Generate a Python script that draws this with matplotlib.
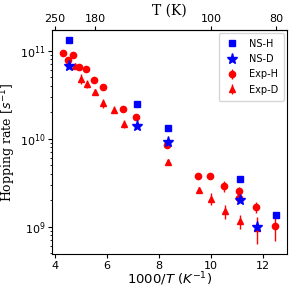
import numpy as np
import matplotlib
matplotlib.use("Agg")
import matplotlib.pyplot as plt

# neutron scattering (simulation) rates, x = 1000/T
ns_h_x = [4.545, 7.143, 8.333, 11.111, 12.5]
ns_h_y = [1.31e11, 2.48e10, 1.33e10, 3.49e9, 1.34e9]
ns_d_x = [4.545, 7.143, 8.333, 11.111, 11.765]
ns_d_y = [6.76e10, 1.41e10, 9.2e9, 2.03e9, 9.9e8]

# experiment, H
exp_h_x = [4.30, 4.49, 4.68, 4.93, 5.19, 5.51, 5.83, 6.62, 7.12, 8.30,
           9.49, 9.97, 10.50, 11.06, 11.06, 11.73, 12.47]
exp_h_y = [9.4e10, 7.9e10, 8.9e10, 6.6e10, 6.2e10, 4.7e10, 3.9e10, 2.2e10, 1.75e10, 8.4e9,
           3.8e9, 3.8e9, 2.9e9, 2.55e9, 2.14e9, 1.68e9, 1.03e9]
exp_h_err = [3e9, 3e9, 3e9, 2e9, 2e9, 1.5e9, 1.2e9, 7e8, 6e8, 4e8,
             1.5e8, 1.5e8, 4e8, 2.5e8, 2e8, 2.5e8, 3.4e8]

# experiment, D
exp_d_x = [4.77, 5.00, 5.25, 5.54, 5.85, 6.25, 6.64, 8.33, 9.52, 10.00, 10.52, 11.10, 11.75]
exp_d_y = [6.76e10, 4.8e10, 4.2e10, 3.4e10, 2.55e10, 2.14e10, 1.48e10, 5.4e9, 2.63e9,
           2.07e9, 1.49e9, 1.15e9, 9.7e8]
exp_d_err = [3e9, 6e9, 4e9, 3e9, 3e9, 2e9, 1.5e9, 4e8, 2e8, 3.3e8, 2.7e8, 2e8, 3.3e8]

top_ticks = [250, 180, 100, 80]

fig = plt.figure(figsize=(2.89, 2.88), dpi=100)
ax = fig.add_axes([0.181, 0.117, 0.811, 0.779])

ax.plot(ns_h_x, ns_h_y, 's', color='blue', ms=5, label='NS-H', zorder=3)
ax.plot(ns_d_x, ns_d_y, '*', color='blue', ms=8, label='NS-D', zorder=3)
ax.errorbar(exp_h_x, exp_h_y, yerr=exp_h_err, fmt='o', color='red', ms=4.5,
            elinewidth=1, capsize=0, label='Exp-H')
ax.errorbar(exp_d_x, exp_d_y, yerr=exp_d_err, fmt='^', color='red', ms=4.5,
            elinewidth=1, capsize=0, label='Exp-D')

ax.set_yscale('log')
ax.set_xlim(3.9, 12.9)
ax.set_ylim(4.85e8, 1.72e11)
ax.set_xticks([4, 6, 8, 10, 12])
ax.tick_params(labelsize=8, length=3, pad=2)
ax.tick_params(which='minor', length=1.8)

ax.set_xlabel(r'1000/$T$ ($K^{-1}$)', fontsize=9.5)
ax.xaxis.set_label_coords(0.5, -0.07)
ax.set_ylabel(r'Hopping rate [$s^{-1}$]', fontsize=9, family='DejaVu Serif')
ax.yaxis.set_label_coords(-0.145, 0.5)

sec = ax.secondary_xaxis('top', functions=(lambda x: 1000.0 / x, lambda x: 1000.0 / x))
sec.set_xticks(top_ticks)
sec.set_xticklabels([str(t) for t in top_ticks])
sec.tick_params(labelsize=8, length=3, pad=1)
sec.set_xlabel('T (K)', fontsize=10, family='DejaVu Serif', labelpad=0)

ax.legend(loc='upper right', fontsize=7, handletextpad=0.9, borderpad=0.6,
          labelspacing=0.55, handlelength=1.6, borderaxespad=0.3)

fig.savefig('out.png', dpi=100)
